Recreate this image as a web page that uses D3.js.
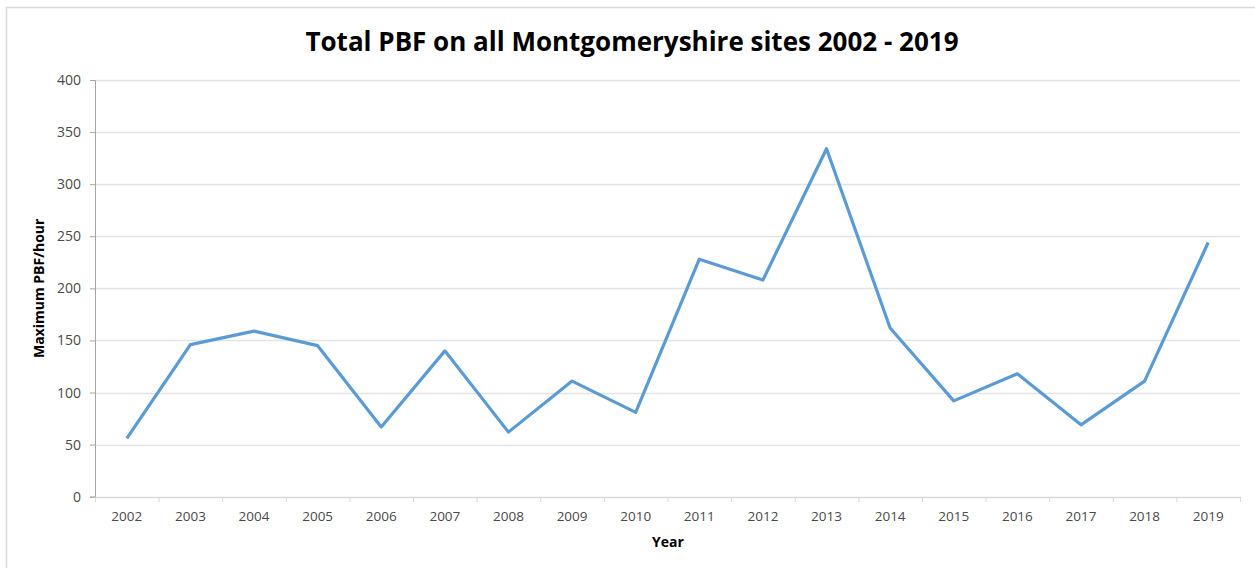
<!DOCTYPE html>
<html>
<head>
<meta charset="utf-8">
<script src="https://cdnjs.cloudflare.com/ajax/libs/d3/7.8.5/d3.min.js"></script>
<style>
  body { margin: 0; background: #fff; }
  svg text { font-family: "Open Sans", "Liberation Sans", sans-serif; }
</style>
</head>
<body>
<div id="chart"></div>
<script>
const years = ["2002", "2003", "2004", "2005", "2006", "2007", "2008", "2009", "2010",
  "2011", "2012", "2013", "2014", "2015", "2016", "2017", "2018", "2019"];
const pbf = [56, 146, 159, 145, 67, 140, 62, 111, 81, 228, 208, 334, 162, 92, 118, 69, 111, 244];
const yTicks = [0, 50, 100, 150, 200, 250, 300, 350, 400];

const W = 1255, H = 568;
const margin = { top: 80, right: 15, bottom: 71, left: 95 };

const svg = d3.select("#chart").append("svg")
  .attr("width", W)
  .attr("height", H);

// chart border
svg.append("rect")
  .attr("x", 6.5).attr("y", 7.5)
  .attr("width", W + 10).attr("height", H + 10)
  .attr("fill", "none")
  .attr("stroke", "#d9d9d9")
  .attr("stroke-width", 1.5);

const x = d3.scaleBand().domain(years).range([margin.left, W - margin.right]);
const y = d3.scaleLinear().domain([0, 400]).range([H - margin.bottom - 0.3, margin.top]);

// gridlines
svg.append("g")
  .selectAll("line")
  .data(yTicks.filter(d => d > 0))
  .join("line")
  .attr("x1", margin.left).attr("x2", W - margin.right)
  .attr("y1", d => Math.round(y(d)) + 0.5).attr("y2", d => Math.round(y(d)) + 0.5)
  .attr("stroke", "#e3e3e3")
  .attr("stroke-width", 1.5);

// y axis
const yAxis = svg.append("g")
  .attr("transform", "translate(" + margin.left + ",0)")
  .call(d3.axisLeft(y).tickValues(yTicks).tickSize(5).tickPadding(9));
yAxis.select(".domain").attr("stroke", "#a6a6a6");
yAxis.selectAll(".tick line").attr("stroke", "#a6a6a6");
yAxis.selectAll("text").attr("fill", "#4a4a4a").style("font-size", "14px");

// x axis
const xAxis = svg.append("g")
  .attr("transform", "translate(0," + Math.round(y(0)) + ")")
  .call(d3.axisBottom(x).tickSize(0).tickPadding(14));
xAxis.select(".domain").attr("stroke", "#d9d9d9").attr("stroke-width", 1.5);
xAxis.selectAll("text").attr("fill", "#4a4a4a").style("font-size", "13.5px");
xAxis.selectAll(".tickmark")
  .data(years.concat(["end"]))
  .join("line")
  .attr("class", "tickmark")
  .attr("x1", (d, i) => margin.left + i * x.step() + 0.5)
  .attr("x2", (d, i) => margin.left + i * x.step() + 0.5)
  .attr("y1", 0).attr("y2", 5)
  .attr("stroke", "#d9d9d9");

// line
const line = d3.line()
  .x((d, i) => x(years[i]) + x.bandwidth() / 2)
  .y(d => y(d));

svg.append("path")
  .datum(pbf)
  .attr("d", line)
  .attr("fill", "none")
  .attr("stroke", "#5b9bd5")
  .attr("stroke-width", 3.2)
  .attr("stroke-linejoin", "round");

// titles
svg.append("text")
  .attr("x", 632).attr("y", 51)
  .attr("text-anchor", "middle")
  .style("font-size", "26px")
  .style("font-weight", "bold")
  .attr("fill", "#000")
  .text("Total PBF on all Montgomeryshire sites 2002 - 2019");

svg.append("text")
  .attr("transform", "translate(44," + ((margin.top + y(0)) / 2) + ") rotate(-90)")
  .attr("text-anchor", "middle")
  .style("font-size", "14px")
  .style("font-weight", "bold")
  .attr("fill", "#000")
  .text("Maximum PBF/hour");

svg.append("text")
  .attr("x", 668).attr("y", 547)
  .attr("text-anchor", "middle")
  .style("font-size", "14px")
  .style("font-weight", "bold")
  .attr("fill", "#000")
  .text("Year");
</script>
</body>
</html>
